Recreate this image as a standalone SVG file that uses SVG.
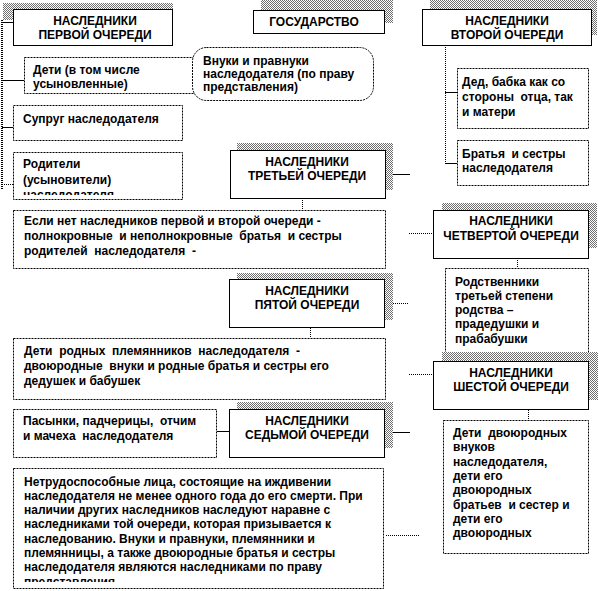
<svg xmlns="http://www.w3.org/2000/svg" width="599" height="591" viewBox="0 0 599 591">
<defs>
<pattern id="hatch" width="2" height="2" patternUnits="userSpaceOnUse"><rect width="2" height="2" fill="#fff"/><rect width="1" height="1" fill="#6e6e6e"/><rect x="1" y="1" width="1" height="1" fill="#6e6e6e"/></pattern>
<clipPath id="c1"><rect x="13" y="152" width="170" height="43"/></clipPath>
<clipPath id="c2"><rect x="13" y="468" width="372" height="114"/></clipPath>
</defs>
<style>
.t{font-family:"Liberation Sans",Arial,sans-serif;font-size:12px;font-weight:bold;fill:#000;white-space:pre}
.m{text-anchor:middle}
.hb{fill:#fff;stroke:#000;stroke-width:1}
.db{fill:#fff;stroke:#000;stroke-width:1;stroke-dasharray:2 1}
.sh{fill:url(#hatch)}
.sl{stroke:#000;stroke-width:1;fill:none}
.dl{stroke:#000;stroke-width:1;fill:none;stroke-dasharray:1 1}
.vl{stroke:#000;stroke-width:2;fill:none;stroke-dasharray:1 1}
</style>
<rect width="599" height="591" fill="#fff"/>
<g id="connectors">
<line class="vl" x1="2" y1="20" x2="2" y2="190"/>
<line class="sl" x1="2" y1="22.5" x2="13" y2="22.5"/>
<line class="sl" x1="2" y1="80.5" x2="24" y2="80.5"/>
<line class="sl" x1="2" y1="127.5" x2="13" y2="127.5"/>
<line class="dl" x1="2" y1="184.5" x2="13" y2="184.5"/>
<line class="dl" x1="445.5" y1="45" x2="445.5" y2="165"/>
<line class="sl" x1="445" y1="92.5" x2="457" y2="92.5"/>
<line class="sl" x1="445" y1="163.5" x2="457" y2="163.5"/>
<line class="sl" x1="385" y1="174.5" x2="410" y2="174.5"/>
<line class="dl" x1="302.5" y1="198" x2="302.5" y2="210"/>
<line class="dl" x1="409" y1="233.5" x2="433" y2="233.5"/>
<line class="dl" x1="517.5" y1="258" x2="517.5" y2="268"/>
<line class="dl" x1="385" y1="303.5" x2="409" y2="303.5"/>
<line class="dl" x1="310.5" y1="328" x2="310.5" y2="338"/>
<line class="dl" x1="409" y1="374.5" x2="433" y2="374.5"/>
<line class="dl" x1="528.5" y1="410" x2="528.5" y2="420"/>
<line class="sl" x1="217" y1="431.5" x2="229" y2="431.5"/>
<line class="sl" x1="385" y1="432.5" x2="410" y2="432.5"/>
<line class="dl" x1="386" y1="535.5" x2="420" y2="535.5"/>
</g>
<g id="n1">
<rect class="sh" x="3" y="3" width="170" height="17"/>
<rect class="hb" x="13.5" y="9.5" width="159" height="36"/>
<text class="t m" x="95" y="25">НАСЛЕДНИКИ</text>
<text class="t m" x="95" y="39">ПЕРВОЙ ОЧЕРЕДИ</text>
</g>
<g id="gos">
<rect class="sh" x="261" y="0" width="132" height="23"/>
<rect class="hb" x="253.5" y="10.5" width="131" height="23"/>
<text class="t m" x="314" y="26">ГОСУДАРСТВО</text>
</g>
<g id="n2">
<rect class="sh" x="430" y="0" width="167" height="35"/>
<rect class="hb" x="422.5" y="9.5" width="169" height="36"/>
<text class="t m" x="507" y="25">НАСЛЕДНИКИ</text>
<text class="t m" x="507" y="39">ВТОРОЙ ОЧЕРЕДИ</text>
</g>
<g id="deti">
<rect class="db" x="24.5" y="57.5" width="170" height="36"/>
<text class="t" x="33" y="74">Дети (в том числе</text>
<text class="t" x="33" y="88">усыновленные)</text>
</g>
<g id="vnuki">
<rect class="db" x="192.5" y="47.5" width="181" height="53" rx="14"/>
<text class="t" x="203" y="65">Внуки и правнуки</text>
<text class="t" x="203" y="78">наследодателя (по праву</text>
<text class="t" x="203" y="91">представления)</text>
</g>
<g id="suprug">
<rect class="db" x="13.5" y="105.5" width="169" height="35"/>
<text class="t" x="23" y="123">Супруг наследодателя</text>
</g>
<g id="roditeli">
<rect class="db" x="13.5" y="152.5" width="169" height="47"/>
<g clip-path="url(#c1)">
<text class="t" x="23" y="168">Родители</text>
<text class="t" x="23" y="184">(усыновители)</text>
<text class="t" x="23" y="199">наследодателя</text>
</g>
</g>
<g id="ded">
<rect class="db" x="457.5" y="68.5" width="131" height="60"/>
<text class="t" x="462" y="86">Дед, бабка как со</text>
<text class="t" x="462" y="101">стороны  отца, так</text>
<text class="t" x="462" y="116">и матери</text>
</g>
<g id="bratya">
<rect class="db" x="457.5" y="140.5" width="131" height="45"/>
<text class="t" x="462" y="158">Братья  и сестры</text>
<text class="t" x="462" y="172">наследодателя</text>
</g>
<g id="n3">
<rect class="sh" x="237" y="143" width="156" height="47"/>
<rect class="hb" x="230.5" y="150.5" width="155" height="48"/>
<text class="t m" x="307" y="166">НАСЛЕДНИКИ</text>
<text class="t m" x="307" y="180">ТРЕТЬЕЙ ОЧЕРЕДИ</text>
</g>
<g id="esli">
<rect class="db" x="13.5" y="210.5" width="372" height="58"/>
<text class="t" x="24" y="225">Если нет наследников первой и второй очереди -</text>
<text class="t" x="24" y="240">полнокровные  и неполнокровные  братья  и сестры</text>
<text class="t" x="24" y="255">родителей  наследодателя  -</text>
</g>
<g id="n4">
<rect class="sh" x="442" y="203" width="155" height="45"/>
<rect class="hb" x="433.5" y="210.5" width="155" height="48"/>
<text class="t m" x="511" y="225">НАСЛЕДНИКИ</text>
<text class="t m" x="511" y="240">ЧЕТВЕРТОЙ ОЧЕРЕДИ</text>
</g>
<g id="rodstv">
<rect class="db" x="445.5" y="268.5" width="143" height="84"/>
<text class="t" x="455" y="286">Родственники</text>
<text class="t" x="455" y="300">третьей степени</text>
<text class="t" x="455" y="314">родства –</text>
<text class="t" x="455" y="328">прадедушки и</text>
<text class="t" x="455" y="343">прабабушки</text>
</g>
<g id="n5">
<rect class="sh" x="237" y="273" width="156" height="47"/>
<rect class="hb" x="229.5" y="279.5" width="155" height="48"/>
<text class="t m" x="307" y="295">НАСЛЕДНИКИ</text>
<text class="t m" x="307" y="309">ПЯТОЙ ОЧЕРЕДИ</text>
</g>
<g id="detirod">
<rect class="db" x="13.5" y="338.5" width="372" height="61"/>
<text class="t" x="24" y="355">Дети  родных  племянников  наследодателя  -</text>
<text class="t" x="24" y="370">двоюродные  внуки и родные братья и сестры его</text>
<text class="t" x="24" y="385">дедушек и бабушек</text>
</g>
<g id="n6">
<rect class="sh" x="442" y="352" width="156" height="48"/>
<rect class="hb" x="433.5" y="361.5" width="155" height="48"/>
<text class="t m" x="511" y="377">НАСЛЕДНИКИ</text>
<text class="t m" x="511" y="391">ШЕСТОЙ ОЧЕРЕДИ</text>
</g>
<g id="pasynki">
<rect class="db" x="13.5" y="409.5" width="203" height="48"/>
<text class="t" x="23" y="425">Пасынки, падчерицы,  отчим</text>
<text class="t" x="23" y="440">и мачеха  наследодателя</text>
</g>
<g id="n7">
<rect class="sh" x="237" y="402" width="156" height="46"/>
<rect class="hb" x="229.5" y="409.5" width="155" height="48"/>
<text class="t m" x="307" y="425">НАСЛЕДНИКИ</text>
<text class="t m" x="307" y="439">СЕДЬМОЙ ОЧЕРЕДИ</text>
</g>
<g id="detidv">
<rect class="db" x="443.5" y="420.5" width="145" height="133"/>
<text class="t" x="453" y="437">Дети  двоюродных</text>
<text class="t" x="453" y="451">внуков</text>
<text class="t" x="453" y="466">наследодателя,</text>
<text class="t" x="453" y="480">дети его</text>
<text class="t" x="453" y="494">двоюродных</text>
<text class="t" x="453" y="509">братьев  и сестер и</text>
<text class="t" x="453" y="523">дети его</text>
<text class="t" x="453" y="537">двоюродных</text>
</g>
<g id="netrud">
<rect class="db" x="13.5" y="468.5" width="370" height="120"/>
<g clip-path="url(#c2)">
<text class="t" x="24" y="486">Нетрудоспособные лица, состоящие на иждивении</text>
<text class="t" x="24" y="500">наследодателя не менее одного года до его смерти. При</text>
<text class="t" x="24" y="514">наличии других наследников наследуют наравне с</text>
<text class="t" x="24" y="528">наследниками той очереди, которая призывается к</text>
<text class="t" x="24" y="543">наследованию. Внуки и правнуки, племянники и</text>
<text class="t" x="24" y="557">племянницы, а также двоюродные братья и сестры</text>
<text class="t" x="24" y="571">наследодателя являются наследниками по праву</text>
<text class="t" x="24" y="586">представления</text>
</g>
</g>
</svg>
